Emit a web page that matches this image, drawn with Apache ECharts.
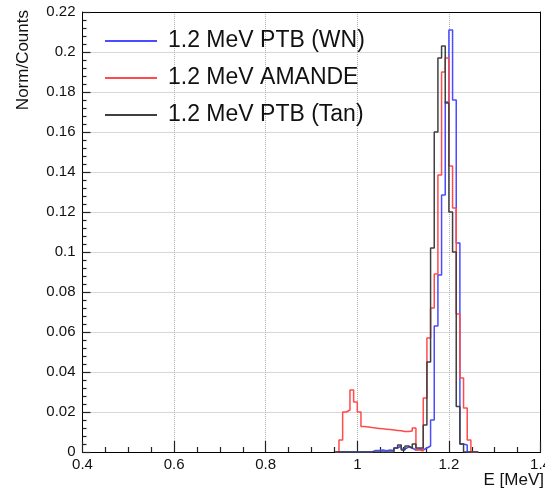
<!DOCTYPE html>
<html>
<head>
<meta charset="utf-8">
<script src="https://cdn.jsdelivr.net/npm/echarts@6/dist/echarts.min.js"></script>
<style>
html,body{margin:0;padding:0;background:#fff;}
#chart{width:545px;height:490px;}
</style>
</head>
<body>
<div id="chart"></div>
<script>
// Bin edges (MeV), width 0.008
const binEdges = [0.952, 0.960, 0.968, 0.976, 0.984, 0.992, 1.000, 1.008, 1.016, 1.024,
                  1.032, 1.040, 1.048, 1.056, 1.064, 1.072, 1.080, 1.088, 1.096, 1.104,
                  1.112, 1.120, 1.128, 1.136, 1.144, 1.152, 1.160, 1.168, 1.176, 1.184,
                  1.192, 1.200, 1.208, 1.216, 1.224, 1.232, 1.240, 1.248, 1.256, 1.264];
const seriesNames = ['1.2 MeV PTB (WN)', '1.2 MeV AMANDE', '1.2 MeV PTB (Tan)'];
// Bin contents (bin i spans binEdges[i]..binEdges[i+1])
const ptbWN = [0, 0, 0, 0, 0, 0, 0, 0, 0, 0,
               0.0008, 0.0008, 0.001, 0.0006, 0.001, 0.0008, 0.002, 0.003, 0.0015, 0.0025,
               0.002, 0.001, 0.0015, 0.001, 0.002, 0.003, 0.016, 0.063, 0.0885, 0.1285,
               0.175, 0.211, 0.176, 0.1045, 0.004, 0.0035, 0, 0, 0];
const amande = [0, 0.006, 0.020, 0.021, 0.031, 0.025, 0.020, 0.0128, 0.0125, 0.0122,
                0.012, 0.0118, 0.0116, 0.0114, 0.0112, 0.011, 0.0108, 0.0106, 0.0103, 0.0102,
                0.0105, 0.012, 0.001, 0.0005, 0.027, 0.057, 0.072, 0.089, 0.1385, 0.19,
                0.197, 0.143, 0.122, 0.069, 0.037, 0.022, 0.006, 0, 0];
const ptbTan = [0, 0, 0, 0, 0, 0, 0, 0, 0, 0,
                0, 0, 0, 0, 0, 0, 0.002, 0.0035, 0.001, 0.003,
                0.002, 0.004, 0.002, 0.002, 0.0135, 0.045, 0.102, 0.160, 0.197, 0.203,
                0.1745, 0.12, 0.10, 0.0227, 0.004, 0, 0, 0, 0];
const xTicks = [0.4, 0.6, 0.8, 1.0, 1.2, 1.4];
const yMax = 0.22, yStep = 0.02;

function toSteps(vals) {
  const pts = vals.map((v, i) => [binEdges[i], v]);
  pts.push([binEdges[binEdges.length - 1], 0]);
  return pts;
}
const FONT = "'Liberation Sans', Arial, Helvetica, sans-serif";
const colors = ['#4b4bff', '#ff4b4b', '#404040'];
const tickColor = '#222';
const xMin = xTicks[0], xMax = xTicks[xTicks.length - 1];

const frameAxis = {
  axisLine: {show: true, onZero: false, lineStyle: {color: '#000', width: 1}},
  axisTick: {show: false}, minorTick: {show: false},
  axisLabel: {show: false}, splitLine: {show: false}
};

const chart = echarts.init(document.getElementById('chart'), null, {renderer: 'canvas'});
const option = {
  animation: false,
  backgroundColor: '#fff',
  grid: {left: 82.5, right: 4.5, top: 12, bottom: 38, show: false, containLabel: false, outerBoundsMode: 'none'},
  legend: {
    data: seriesNames,
    orient: 'vertical',
    left: 105, top: 28,
    icon: 'rect',
    itemWidth: 52, itemHeight: 2, itemGap: 11,
    padding: 0,
    textStyle: {fontFamily: FONT, fontSize: 23, color: '#111', lineHeight: 26, padding: [0, 0, 0, 6]}
  },
  xAxis: [{
    type: 'value', min: xMin, max: xMax, interval: 0.2, position: 'bottom',
    axisLine: {show: true, onZero: false, lineStyle: {color: '#000', width: 1}},
    axisTick: {show: true, inside: true, length: 11, lineStyle: {color: tickColor, width: 1.2}},
    minorTick: {show: true, splitNumber: 4, length: 5, lineStyle: {color: tickColor, width: 1.2}},
    axisLabel: {fontFamily: FONT, fontSize: 15, color: '#111', margin: 5, showMinLabel: true, showMaxLabel: true},
    splitLine: {show: true, lineStyle: {type: 'dotted', color: '#b0b0b0', width: 1}}
  }, Object.assign({type: 'value', min: xMin, max: xMax, interval: 0.2, position: 'top'}, frameAxis)],
  yAxis: [{
    type: 'value', min: 0, max: yMax, interval: yStep, position: 'left',
    axisLine: {show: true, onZero: false, lineStyle: {color: '#000', width: 1}},
    axisTick: {show: true, inside: true, length: 8, lineStyle: {color: tickColor, width: 1.2}},
    minorTick: {show: true, splitNumber: 5, length: 4, lineStyle: {color: tickColor, width: 1.2}},
    axisLabel: {fontFamily: FONT, fontSize: 15, color: '#111', margin: 7, showMinLabel: true, showMaxLabel: true},
    splitLine: {show: true, lineStyle: {type: 'dotted', color: '#b0b0b0', width: 1}}
  }, Object.assign({type: 'value', min: 0, max: yMax, interval: yStep, position: 'right'}, frameAxis)],
  series: [
    {name: seriesNames[0], type: 'line', step: 'end', symbol: 'none', data: toSteps(ptbWN),
     lineStyle: {color: colors[0], width: 1.5}, itemStyle: {color: colors[0]}, z: 3},
    {name: seriesNames[1], type: 'line', step: 'end', symbol: 'none', data: toSteps(amande),
     lineStyle: {color: colors[1], width: 1.5}, itemStyle: {color: colors[1]}, z: 4},
    {name: seriesNames[2], type: 'line', step: 'end', symbol: 'none', data: toSteps(ptbTan),
     lineStyle: {color: colors[2], width: 1.5}, itemStyle: {color: colors[2]}, z: 5}
  ],
  graphic: [
    {type: 'text', x: 23, y: 10, rotation: Math.PI / 2,
     style: {text: 'Norm/Counts', fontFamily: FONT, fontSize: 17, fill: '#111', align: 'right', verticalAlign: 'middle'}},
    {type: 'text', x: 544, y: 480,
     style: {text: 'E [MeV]', fontFamily: FONT, fontSize: 17, fill: '#111', align: 'right', verticalAlign: 'middle'}}
  ]
};
chart.setOption(option);
</script>
</body>
</html>
